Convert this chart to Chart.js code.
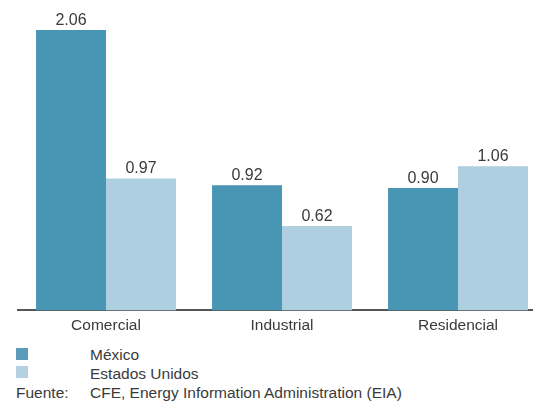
<!DOCTYPE html>
<html><head><meta charset="utf-8">
<script src="https://cdn.jsdelivr.net/npm/chart.js@4"></script>
<style>
html,body{margin:0;padding:0;overflow:hidden;background:#fff;width:533px;height:401px;}
#wrap{position:absolute;left:0;top:0;width:546px;height:333px;}
.leg{position:absolute;font-family:"Liberation Sans",Arial,sans-serif;font-size:15.5px;color:#3a3a3a;line-height:18px;white-space:nowrap;}
.sw{position:absolute;width:12px;height:12px;}
</style></head><body>
<div id="wrap"><canvas id="c" width="546" height="333"></canvas></div>
<div class="sw" style="left:16px;top:348px;background:#5b9bbb"></div>
<div class="leg" style="left:90px;top:346px">México</div>
<div class="sw" style="left:16px;top:366px;background:#b5d0e0"></div>
<div class="leg" style="left:90px;top:365px">Estados Unidos</div>
<div class="leg" style="left:16px;top:384px">Fuente:</div>
<div class="leg" style="left:90px;top:384px">CFE, Energy Information Administration (EIA)</div>
<script>
const categories = ["Comercial", "Industrial", "Residencial"];
const seriesNames = ["México", "Estados Unidos"];
const mexico = [2.06, 0.92, 0.90];
const estadosUnidos = [0.97, 0.62, 1.06];

const FONT = '"Liberation Sans", Arial, sans-serif';
const labelPlugin = {
  id: 'vals',
  afterDatasetsDraw(chart) {
    const ctx = chart.ctx;
    ctx.save();
    ctx.font = '16px ' + FONT;
    ctx.fillStyle = '#3a3a3a';
    ctx.textAlign = 'center';
    ctx.textBaseline = 'alphabetic';
    chart.data.datasets.forEach((ds, i) => {
      chart.getDatasetMeta(i).data.forEach((bar, j) => {
        ctx.fillText(ds.data[j].toFixed(2), bar.x, bar.y - 5);
      });
    });
    ctx.restore();
  }
};

new Chart(document.getElementById('c'), {
  type: 'bar',
  data: {
    labels: categories,
    datasets: [
      { label: seriesNames[0], data: mexico, backgroundColor: '#4896b3', barPercentage: 1, categoryPercentage: 0.795 },
      { label: seriesNames[1], data: estadosUnidos, backgroundColor: '#aecfe0', barPercentage: 1, categoryPercentage: 0.795 }
    ]
  },
  options: {
    responsive: false,
    animation: false,
    layout: { padding: { left: 18, right: 0, top: 11, bottom: 0 } },
    plugins: { legend: { display: false }, tooltip: { enabled: false } },
    scales: {
      x: {
        grid: { display: false },
        border: { display: true, color: '#555', width: 2 },
        ticks: { color: '#3a3a3a', font: { family: FONT, size: 15.5 }, padding: -2 }
      },
      y: { display: false, min: 0, max: 2.2 }
    }
  },
  plugins: [labelPlugin]
});
</script>
</body></html>
